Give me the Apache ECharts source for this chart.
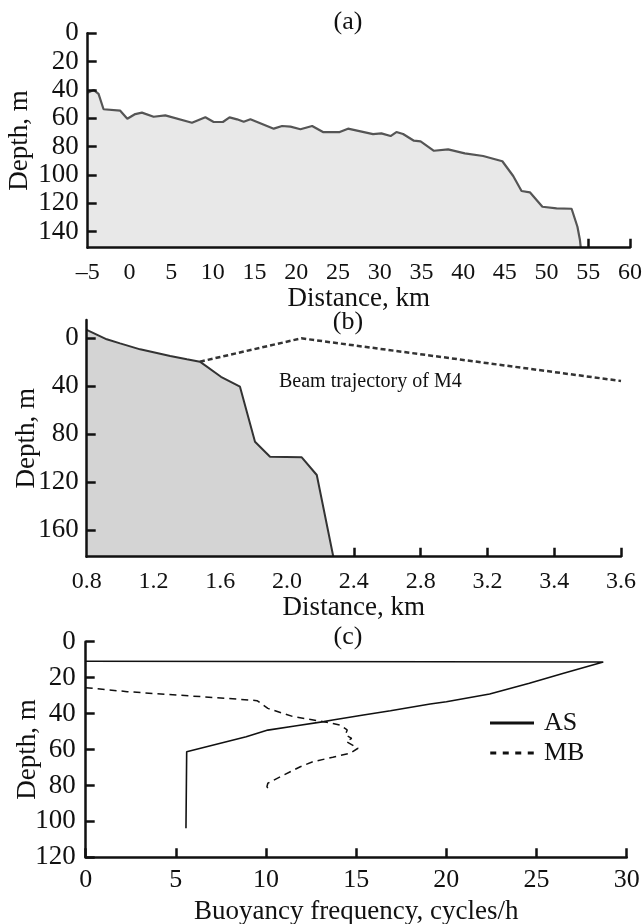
<!DOCTYPE html>
<html><head><meta charset="utf-8">
<script src="https://cdn.jsdelivr.net/npm/echarts@6/dist/echarts.min.js"></script>
<style>html,body{margin:0;padding:0;background:#fff}#c{width:643px;height:924px}</style>
</head><body><div id="c"></div>
<script>
const FONT = "'Liberation Serif','Times New Roman','DejaVu Serif',serif";
const INK = '#111';

// ---------- Panel (a) ----------
const aXLabels = [-5, 0, 5, 10, 15, 20, 25, 30, 35, 40, 45, 50, 55, 60];
const aXTickMarks = [55, 60];
const aYLabels = [0, 20, 40, 60, 80, 100, 120, 140];
const aProfile = [
  [-5, 41.9], [-4.3, 40], [-3.7, 42.8], [-3.1, 53.6], [-1.1, 54.6], [-0.25, 60.3], [0.7, 57], [1.5, 56],
  [2.9, 58.9], [4.3, 57.9], [7.5, 63.1], [9.1, 59.3], [10.1, 62.6], [11.2, 62.6], [12, 59.3], [12.9, 60.7],
  [13.7, 62.4], [14.5, 60.7], [17.3, 67.3], [18.3, 65.4], [19.3, 65.9], [20.5, 67.7], [21.9, 65.4],
  [23.2, 69.7], [25.2, 69.7], [26.2, 67.3], [29.2, 71.1], [30.2, 70.6], [31.3, 72.5], [32, 69.7],
  [32.8, 71.1], [34.1, 75.8], [34.9, 76.2], [36.5, 82.9], [38.2, 81.9], [40.2, 84.7], [42.4, 86.6],
  [43.6, 88.5], [44.7, 90.3], [46, 100.7], [47, 111.3], [48, 112.2], [49.5, 122.4], [51.2, 123.5],
  [53, 123.8], [53.7, 136.5], [54, 145.9], [54.1, 151.3]
];

// ---------- Panel (b) ----------
const bXTickPos = [0.8, 1.2, 1.6, 2.0, 2.4, 2.8, 3.2, 3.6, 4.0];
const bXTickLabels = ['0.8', '1.2', '1.6', '2.0', '2.4', '2.8', '3.2', '3.4', '3.6'];
const bXTickMarks = [2.4, 2.8, 3.2, 3.6, 4.0];
const bYLabels = [0, 40, 80, 120, 160];
const bProfile = [
  [0.8, -7], [0.92, 0.8], [1.0, 4.2], [1.12, 9.2], [1.3, 14.8], [1.4, 17.5], [1.478, 19.5],
  [1.604, 32.1], [1.718, 40.4], [1.808, 86.3], [1.898, 98.8], [2.088, 99.3], [2.178, 114.1], [2.277, 182.3]
];
const bBeam = [[1.478, 19.5], [2.085, 0], [4.0, 35.6]];

// ---------- Panel (c) ----------
const cXLabels = [0, 5, 10, 15, 20, 25, 30];
const cYLabels = [0, 20, 40, 60, 80, 100, 120];
const cAS = [
  [0, 10.9], [28.7, 11.3], [26.5, 17.6], [24.6, 23.1], [22.4, 29.1], [20, 33.4], [19.1, 34.7],
  [16.9, 38.4], [15.4, 40.8], [13.7, 43.6], [13.2, 44.5], [11.6, 46.9], [10.1, 49.2], [8.9, 52.9],
  [5.6, 61.2], [5.56, 103.8]
];
const cMB = [
  [0, 25.6], [2.3, 27.8], [5.05, 29.7], [7.8, 31.5], [9.5, 32.8], [10.1, 37.1], [11.5, 41.7],
  [13.2, 44.5], [14.1, 46.4], [14.5, 49.1], [14.4, 51.9], [14.75, 53.8], [14.45, 55.6], [15.1, 59.3],
  [14.65, 62.1], [13.7, 64.3], [12.6, 66.8], [11.9, 69.6], [10.8, 75.1], [10.1, 78.8], [10.05, 80.7], [10.1, 81.6]
];

function xAxisCfg(gi, min, max, labels, ticks, name, nameGap, fs, margin, fmt) {
  return {
    type: 'value', gridIndex: gi, min: min, max: max, z: 5,
    name: name, nameLocation: 'middle', nameGap: nameGap,
    nameTextStyle: { fontFamily: FONT, fontSize: 27, color: INK },
    axisLine: { show: true, onZero: false, lineStyle: { color: INK, width: 2.5 } },
    axisTick: { show: true, inside: true, length: 9, customValues: ticks, lineStyle: { color: INK, width: 2.5 } },
    axisLabel: { show: true, customValues: labels, margin: margin, fontFamily: FONT, fontSize: fs, color: INK,
      formatter: fmt || (v => (v < 0 ? '\u2013' + Math.abs(v) : String(v))) },
    splitLine: { show: false }
  };
}
function yAxisCfg(gi, min, max, labels, name, nameGap, fs, margin) {
  return {
    type: 'value', gridIndex: gi, min: min, max: max, inverse: true, z: 5,
    name: name, nameLocation: 'middle', nameGap: nameGap, nameRotate: 90, nameMoveOverlap: false,
    nameTextStyle: { fontFamily: FONT, fontSize: 27, color: INK },
    axisLine: { show: true, onZero: false, lineStyle: { color: INK, width: 2.5 } },
    axisTick: { show: true, inside: true, length: 9, customValues: labels, lineStyle: { color: INK, width: 2.5 } },
    axisLabel: { show: true, customValues: labels, margin: margin, fontFamily: FONT, fontSize: fs, color: INK },
    splitLine: { show: false }
  };
}

const chart = echarts.init(document.getElementById('c'), null, { renderer: 'canvas' });
chart.setOption({
  animation: false,
  backgroundColor: '#fff',
  grid: [
    { left: 87.7, top: 33.3, width: 542.3, height: 214.4, outerBoundsMode: 'none', containLabel: false },
    { left: 86.7, top: 320, width: 534.3, height: 236.7, outerBoundsMode: 'none', containLabel: false },
    { left: 85.7, top: 641.7, width: 541, height: 215.6, outerBoundsMode: 'none', containLabel: false }
  ],
  xAxis: [
    xAxisCfg(0, -5, 60, aXLabels, aXTickMarks, 'Distance, km', 35, 24, 13),
    xAxisCfg(1, 0.8, 4.0, bXTickPos, bXTickMarks, 'Distance, km', 35, 24, 13,
      v => bXTickLabels[Math.round((v - 0.8) / 0.4)]),
    xAxisCfg(2, 0, 30, cXLabels, cXLabels, 'Buoyancy frequency, cycles/h', 41, 26, 10)
  ],
  yAxis: [
    yAxisCfg(0, 0, 151.3, aYLabels, 'Depth, m', 54, 27, 9),
    yAxisCfg(1, -15.3, 182.3, bYLabels, 'Depth, m', 46, 27, 8),
    yAxisCfg(2, 0, 120, cYLabels, 'Depth, m', 44, 27, 10)
  ],
  legend: {
    orient: 'vertical', left: 485, top: 705, itemWidth: 44, itemHeight: 3, itemGap: 4,
    data: [
      { name: 'AS', icon: 'rect' },
      { name: 'MB', icon: 'path://M0,0H6V3H0Z M12.5,0H18.5V3H12.5Z M25,0H31V3H25Z M37.5,0H43.5V3H37.5Z' }
    ],
    textStyle: { fontFamily: FONT, fontSize: 26, color: INK, padding: [0, 0, 0, 5] }
  },
  graphic: [
    { type: 'text', x: 348, y: 22, style: { text: '(a)', font: '26px ' + FONT, fill: INK, textAlign: 'center', textVerticalAlign: 'middle' } },
    { type: 'text', x: 348, y: 322, style: { text: '(b)', font: '26px ' + FONT, fill: INK, textAlign: 'center', textVerticalAlign: 'middle' } },
    { type: 'text', x: 348, y: 637, style: { text: '(c)', font: '26px ' + FONT, fill: INK, textAlign: 'center', textVerticalAlign: 'middle' } },
    { type: 'text', x: 279, y: 382, z: 10, style: { text: 'Beam trajectory of M4', font: '20px ' + FONT, fill: INK, textAlign: 'left', textVerticalAlign: 'middle' } }
  ],
  series: [
    { name: 'Profile (a)', type: 'line', xAxisIndex: 0, yAxisIndex: 0, data: aProfile, symbol: 'none',
      lineStyle: { color: '#555', width: 2.2 }, areaStyle: { origin: 'end', color: '#e8e8e8', opacity: 1 } },
    { name: 'Profile (b)', type: 'line', xAxisIndex: 1, yAxisIndex: 1, data: bProfile, symbol: 'none',
      lineStyle: { color: '#333', width: 2 }, areaStyle: { origin: 'end', color: '#d4d4d4', opacity: 1 } },
    { name: 'Beam trajectory of M4', type: 'line', xAxisIndex: 1, yAxisIndex: 1, data: bBeam, symbol: 'none',
      lineStyle: { color: '#333', width: 2.5, type: [5, 3] } },
    { name: 'AS', type: 'line', xAxisIndex: 2, yAxisIndex: 2, data: cAS, symbol: 'none',
      lineStyle: { color: INK, width: 1.6 }, itemStyle: { color: INK } },
    { name: 'MB', type: 'line', xAxisIndex: 2, yAxisIndex: 2, data: cMB, symbol: 'none',
      lineStyle: { color: INK, width: 1.5, type: [7, 5] }, itemStyle: { color: INK } }
  ]
});
</script>
</body></html>
